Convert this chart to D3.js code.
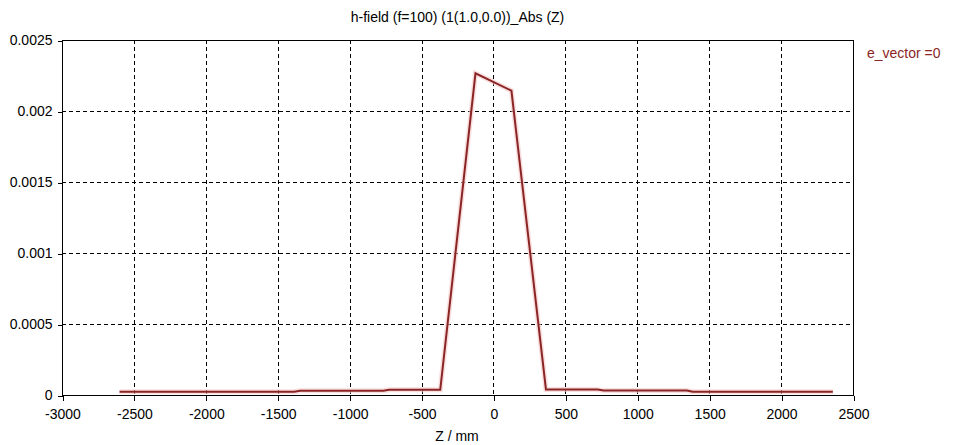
<!DOCTYPE html>
<html>
<head>
<meta charset="utf-8">
<script src="https://cdn.jsdelivr.net/npm/d3@7"></script>
<style>
html,body{margin:0;padding:0;background:#fff;}
svg{display:block;}
text{font-family:"Liberation Sans",Arial,sans-serif;}
</style>
</head>
<body>
<svg id="chart" width="965" height="445"></svg>
<script>
const titleText = "h-field (f=100) (1(1.0,0.0))_Abs (Z)";
const xLabel = "Z / mm";
const legendLabel = "e_vector =0";
const zValues = [-2600, -1385, -1345, -765, -725, -370, -125, 125, 365, 725, 765, 1345, 1385, 2360];
const hValues = [2.3e-5, 2.3e-5, 3.0e-5, 3.0e-5, 3.7e-5, 3.7e-5, 2.265e-3, 2.143e-3, 3.9e-5, 3.9e-5, 3.1e-5, 3.1e-5, 2.3e-5, 2.3e-5];
const xTicks = [-3000, -2500, -2000, -1500, -1000, -500, 0, 500, 1000, 1500, 2000, 2500];
const yTicks = [0, 0.0005, 0.001, 0.0015, 0.002, 0.0025];
const yTickLabels = ["0", "0.0005", "0.001", "0.0015", "0.002", "0.0025"];

const svg = d3.select("#chart");
const m = {left: 62, top: 40, right: 853, bottom: 395};
const x = d3.scaleLinear().domain([-3000, 2500]).range([m.left, m.right]);
const y = d3.scaleLinear().domain([0, 0.0025]).range([m.bottom, m.top]);

// grid
const grid = svg.append("g").attr("stroke", "#000").attr("stroke-width", 1).attr("stroke-dasharray", "4,3").attr("shape-rendering", "crispEdges");
xTicks.slice(1, -1).forEach(t => {
  grid.append("line").attr("x1", Math.round(x(t)) + 0.5).attr("x2", Math.round(x(t)) + 0.5).attr("y1", m.top).attr("y2", m.bottom);
});
yTicks.slice(1, -1).forEach(t => {
  grid.append("line").attr("y1", Math.round(y(t)) + 0.5).attr("y2", Math.round(y(t)) + 0.5).attr("x1", m.left).attr("x2", m.right);
});

// frame
svg.append("rect").attr("x", m.left + 0.5).attr("y", m.top + 0.5)
  .attr("width", m.right - m.left).attr("height", m.bottom - m.top)
  .attr("fill", "none").attr("stroke", "#000").attr("stroke-width", 1).attr("shape-rendering", "crispEdges");

// axes
const xAxis = d3.axisBottom(x).tickValues(xTicks).tickSize(5).tickPadding(9).tickFormat(d3.format("d"));
const gx = svg.append("g").attr("transform", `translate(0.5,${m.bottom + 0.5})`).call(xAxis);
const yAxis = d3.axisLeft(y).tickValues(yTicks).tickSize(5).tickPadding(5).tickFormat((d, i) => yTickLabels[i]);
const gy = svg.append("g").attr("transform", `translate(${m.left + 0.5},0.5)`).call(yAxis);
[gx, gy].forEach(g => {
  g.select(".domain").remove();
  g.selectAll("line").attr("stroke", "#000").attr("shape-rendering", "crispEdges");
  g.selectAll("text").attr("fill", "#000").style("font-size", "14px").style("font-family", "'Liberation Sans',Arial,sans-serif");
});
gx.selectAll("text").text(d => d < 0 ? "-" + Math.abs(d) : String(d));

// line
const data = zValues.map((z, i) => ({z, v: hValues[i]}));
const line = d3.line().x(d => x(d.z)).y(d => y(d.v));
svg.append("path").datum(data).attr("d", line).attr("fill", "none")
  .attr("stroke", "#f4c8c8").attr("stroke-width", 5).attr("stroke-opacity", 0.6).attr("stroke-linejoin", "miter");
svg.append("path").datum(data).attr("d", line).attr("fill", "none")
  .attr("stroke", "#8b2525").attr("stroke-width", 2).attr("stroke-linejoin", "miter");

// title
svg.append("text").attr("x", (m.left + m.right) / 2).attr("y", 22).attr("text-anchor", "middle")
  .style("font-size", "14px").attr("fill", "#000").text(titleText);

// x label
svg.append("text").attr("x", 457).attr("y", 441).attr("text-anchor", "middle")
  .style("font-size", "14px").attr("fill", "#000").text(xLabel);

// legend
svg.append("text").attr("x", 867).attr("y", 58)
  .style("font-size", "14px").attr("fill", "#8b2525").text(legendLabel);
</script>
</body>
</html>
